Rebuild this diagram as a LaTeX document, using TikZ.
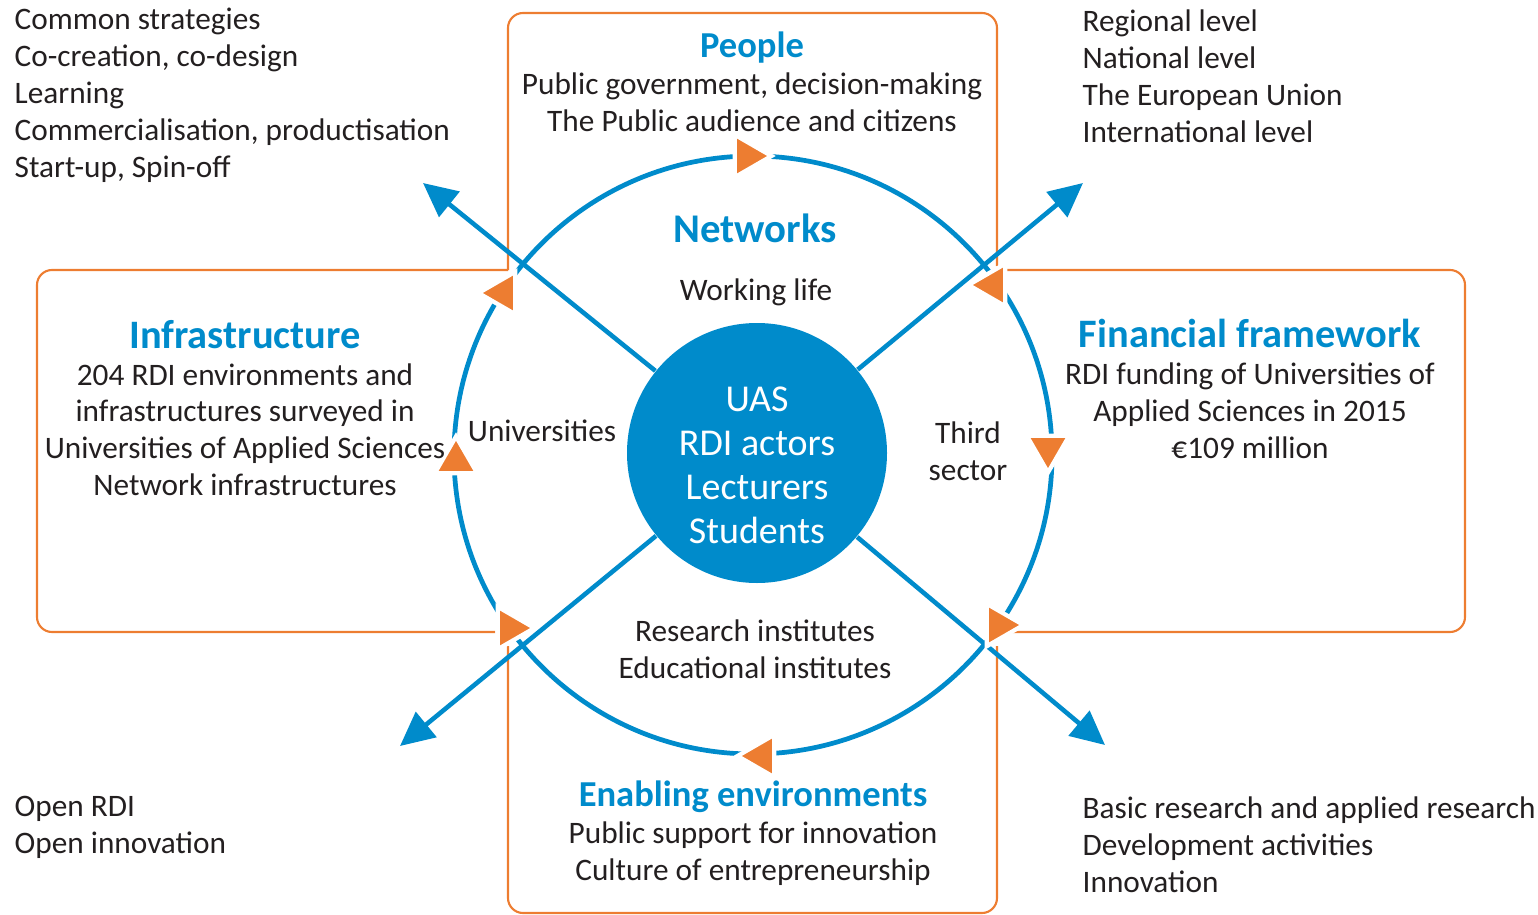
\documentclass[tikz,border=0pt]{standalone}
\usepackage{fontspec}
\setmainfont{Carlito}
\usepackage{tikz}
\usetikzlibrary{shapes.geometric, arrows.meta, positioning}
\definecolor{uasblue}{RGB}{0, 139, 203}
\definecolor{uasorange}{RGB}{237, 125, 49}
\definecolor{textdark}{RGB}{35, 31, 32}
\newcommand{\headline}[2][11.5]{{\color{uasblue}\fontsize{#1}{10.5}\selectfont\bfseries #2}}
\tikzstyle{frame} = [draw=uasorange, line width=0.6pt, rounded corners=0.15cm]
\tikzstyle{ring} = [draw=uasblue, line width=1.35pt]
\tikzstyle{spoke} = [draw=uasblue, line width=1.3pt, -{Triangle[length=0.34cm, width=0.32cm]}]
\tikzstyle{marker} = [regular polygon, regular polygon sides=3, minimum size=0.49cm, inner sep=0pt, fill=uasorange, draw=white, line width=1.2pt]
\tikzstyle{listtext} = [align=left, anchor=west, inner sep=0pt, text=textdark, font=\fontsize{8.9}{10.5}\selectfont]
\tikzstyle{blocktext} = [align=center, inner sep=0pt, text=textdark, font=\fontsize{8.9}{10.5}\selectfont]

\begin{document}
\begin{tikzpicture}
    \useasboundingbox (0,0) rectangle (15.38,-9.15);

    % Open frames
    \draw[frame] (5.08,-2.70) -- (5.08,-0.13) -- (9.97,-0.13) -- (9.97,-2.66);
    \draw[frame] (5.08,-2.70) -- (0.37,-2.70) -- (0.37,-6.32) -- (4.95,-6.32);
    \draw[frame] (10.05,-2.70) -- (14.65,-2.70) -- (14.65,-6.32) -- (10.10,-6.32);
    \draw[frame] (5.08,-6.46) -- (5.08,-9.13) -- (9.97,-9.13) -- (9.97,-6.46);

    % Ring and core
    \draw[ring] (7.53,-4.55) circle (2.99);
    \node[circle, fill=uasblue, minimum size=2.6cm, inner sep=0pt] (uas) at (7.57,-4.53) {};
    \node[align=center, inner sep=0pt, text=white, font=\fontsize{10.8}{12.5}\selectfont] (uaslabel) at (7.57,-4.65) {UAS\\RDI actors\\Lecturers\\Students};

    % Spokes
    \coordinate (nwtip) at (4.23,-1.83);
    \coordinate (netip) at (10.83,-1.83);
    \coordinate (swtip) at (4.00,-7.46);
    \coordinate (setip) at (11.05,-7.45);
    \draw[spoke] (uas) -- (nwtip);
    \draw[spoke] (uas) -- (netip);
    \draw[spoke] (uas) -- (swtip);
    \draw[spoke] (uas) -- (setip);

    % Ring markers
    \node[marker, rotate=-90] (m1) at (7.47,-1.56) {};
    \node[marker, rotate=90] (m2) at (5.03,-2.93) {};
    \node[marker] (m3) at (4.56,-4.61) {};
    \node[marker, rotate=-90] (m4) at (5.10,-6.28) {};
    \node[marker, rotate=90] (m5) at (7.62,-7.56) {};
    \node[marker, rotate=-90] (m6) at (9.99,-6.25) {};
    \node[marker, rotate=180] (m7) at (10.48,-4.48) {};
    \node[marker, rotate=90] (m8) at (9.93,-2.85) {};

    % Boxes
    \node[blocktext] (people) at (7.52,-0.815) {\headline[10.4]{People}\\Public government, decision-making\\The Public audience and citizens};
    \node[blocktext] (infra) at (2.45,-4.08) {\headline{Infrastructure}\\204 RDI environments and\\infrastructures surveyed in\\Universities of Applied Sciences\\Network infrastructures};
    \node[blocktext] (finance) at (12.50,-3.89) {\headline{Financial framework}\\RDI funding of Universities of\\Applied Sciences in 2015\\€109 million};
    \node[blocktext] (enabling) at (7.53,-8.33) {\headline[10.4]{Enabling environments}\\Public support for innovation\\Culture of entrepreneurship};

    % Inside the ring
    \node[inner sep=0pt, text=uasblue, font=\fontsize{11.6}{12}\selectfont\bfseries] (networks) at (7.55,-2.28) {Networks};
    \node[blocktext] (worklife) at (7.56,-2.92) {Working life};
    \node[blocktext] (univ) at (5.42,-4.31) {Universities};
    \node[blocktext] (third) at (9.68,-4.515) {Third\\sector};
    \node[blocktext] (institutes) at (7.55,-6.495) {Research institutes\\Educational institutes};

    % Outer lists
    \node[listtext] (goals) at (0.14,-0.95) {Common strategies\\Co-creation, co-design\\Learning\\Commercialisation, productisation\\Start-up, Spin-off};
    \node[listtext] (levels) at (10.82,-0.76) {Regional level\\National level\\The European Union\\International level};
    \node[listtext] (openness) at (0.14,-8.27) {Open RDI\\Open innovation};
    \node[listtext] (research) at (10.82,-8.45) {Basic research and applied research\\Development activities\\Innovation};
\end{tikzpicture}
\end{document}
